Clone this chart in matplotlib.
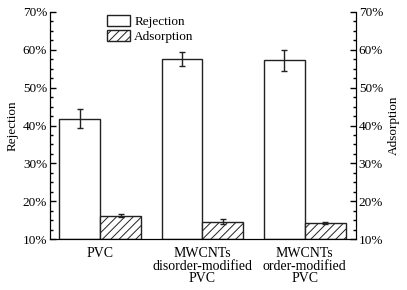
import matplotlib
matplotlib.use("Agg")
import matplotlib.pyplot as plt
import numpy as np
from matplotlib.ticker import MultipleLocator, FuncFormatter

plt.rcParams['font.family'] = ['Liberation Serif', 'DejaVu Serif']
plt.rcParams['hatch.linewidth'] = 0.7

categories = ["PVC", "MWCNTs\ndisorder-modified\nPVC", "MWCNTs\norder-modified\nPVC"]
rejection = [41.8, 57.6, 57.2]
rejection_err = [2.5, 1.9, 2.8]
adsorption = [16.2, 14.6, 14.3]
adsorption_err = [0.5, 0.6, 0.25]

fig = plt.figure(figsize=(4.07, 2.90), dpi=100)
ax = fig.add_axes([50/407, 1-239/290, 306/407, 227/290])
x = np.arange(len(categories))
w = 0.4
ax.bar(x - w/2, np.array(rejection) - 10, w, bottom=10, color='white', edgecolor='#222222',
       linewidth=1.0, label='Rejection', yerr=rejection_err,
       error_kw=dict(ecolor='#222222', elinewidth=1.0, capsize=2.2, capthick=1.0))
ax.bar(x + w/2, np.array(adsorption) - 10, w, bottom=10, color='white', edgecolor='#222222',
       linewidth=1.0, hatch='////', label='Adsorption', yerr=adsorption_err,
       error_kw=dict(ecolor='#222222', elinewidth=1.0, capsize=2.2, capthick=1.0))

ax.set_xlim(-0.49, 2.5)
ax.set_ylim(10, 70)
ax.set_xticks(x)
ax.set_xticklabels(categories, fontsize=10, linespacing=0.95)
ax.tick_params(axis='x', length=0, pad=6)
fmt = FuncFormatter(lambda v, p: f"{v:.0f}%")
ax.yaxis.set_major_locator(MultipleLocator(10))
ax.yaxis.set_minor_locator(MultipleLocator(2.5))
ax.yaxis.set_major_formatter(fmt)
ax.tick_params(axis='y', which='major', direction='in', length=4, width=1, labelsize=9.5, pad=2)
ax.tick_params(axis='y', which='minor', direction='in', length=2.5, width=1)
ax.spines['top'].set_visible(False)
ax.set_ylabel('Rejection', fontsize=9.5, labelpad=3)

ax2 = ax.twinx()
ax2.set_ylim(10, 70)
ax2.yaxis.set_major_locator(MultipleLocator(10))
ax2.yaxis.set_minor_locator(MultipleLocator(2.5))
ax2.yaxis.set_major_formatter(fmt)
ax2.tick_params(axis='y', which='major', direction='in', length=4, width=1, labelsize=9.5, pad=2)
ax2.tick_params(axis='y', which='minor', direction='in', length=2.5, width=1)
ax2.spines['top'].set_visible(False)
ax2.set_ylabel('Adsorption', fontsize=9.5, labelpad=3)

ax.legend(loc='upper left', bbox_to_anchor=(0.17, 1.012), frameon=False, fontsize=9.5,
          handlelength=1.75, handleheight=0.9, handletextpad=0.3, labelspacing=0.15,
          borderaxespad=0)

fig.savefig("out.png", dpi=100)
